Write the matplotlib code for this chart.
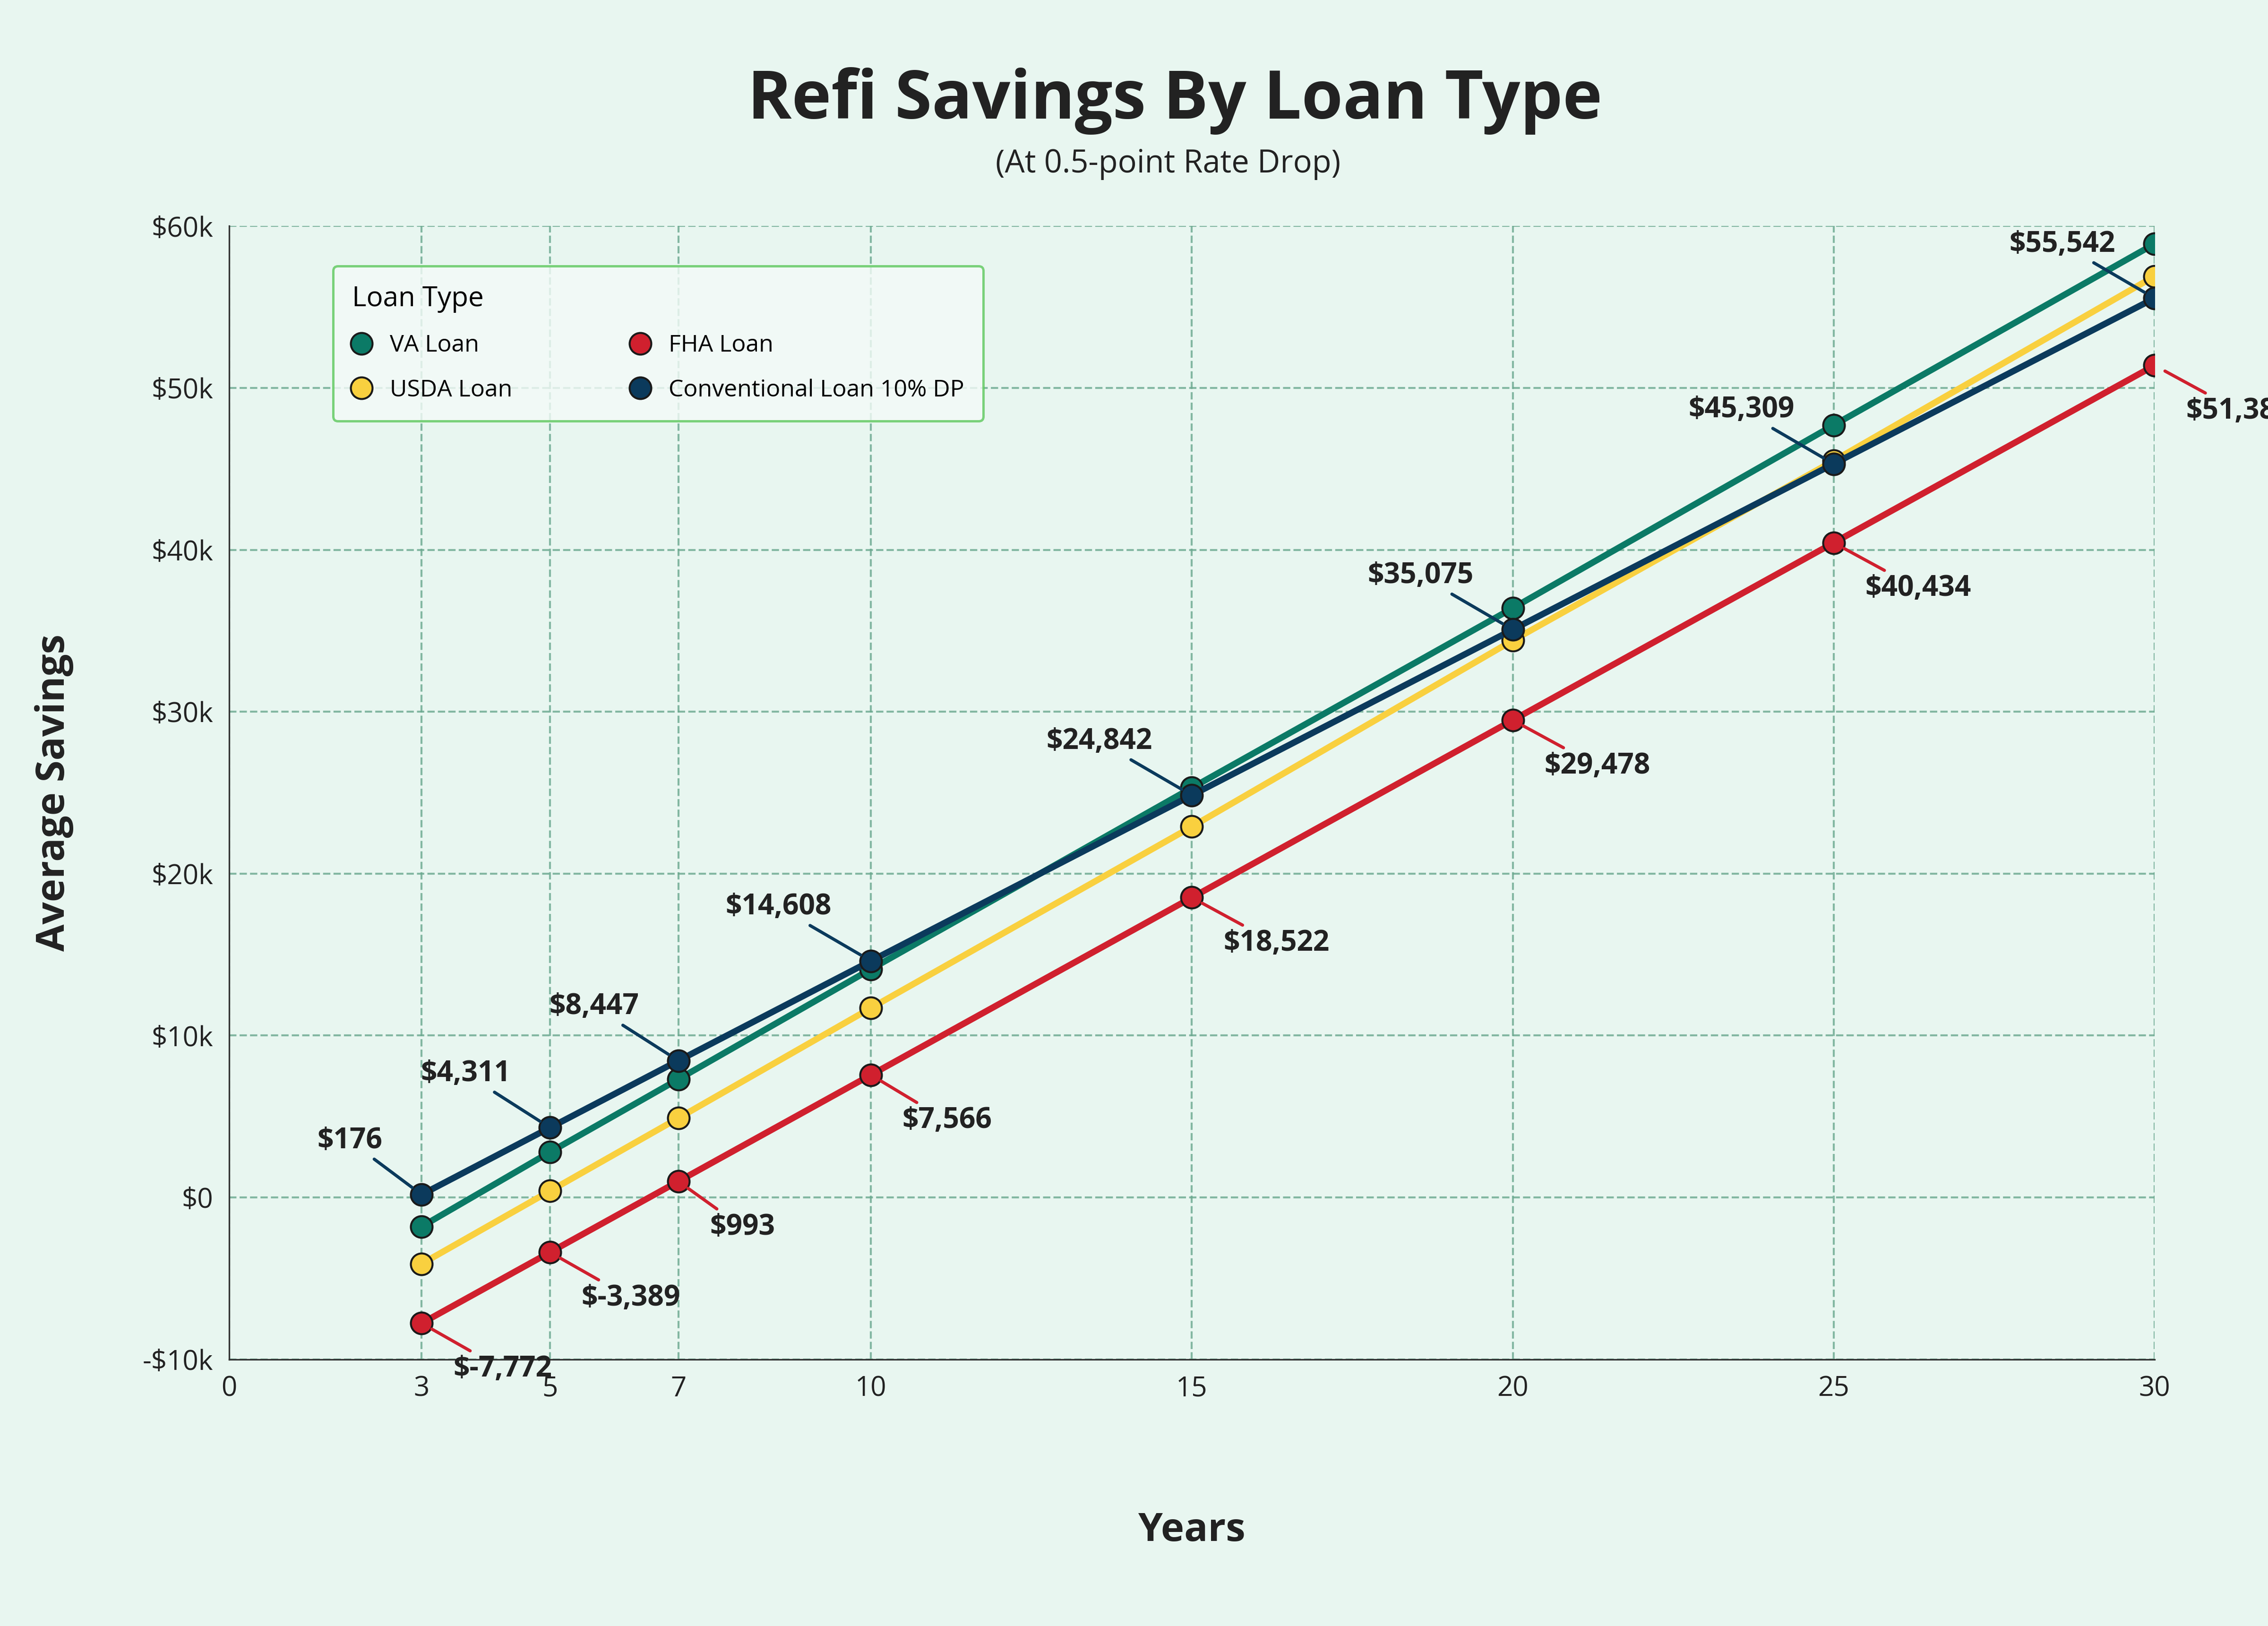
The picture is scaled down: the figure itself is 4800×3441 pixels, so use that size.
import matplotlib.pyplot as plt

plt.rcParams['font.family'] = 'Open Sans'

years = [3, 5, 7, 10, 15, 20, 25, 30]
va = [-1800, 2800, 7300, 14100, 25300, 36400, 47700, 58900]
usda = [-4100, 400, 4900, 11700, 22900, 34400, 45500, 56900]
fha = [-7772, -3389, 993, 7566, 18522, 29478, 40434, 51389]
conv = [176, 4311, 8447, 14608, 24842, 35075, 45309, 55542]

bg = '#e8f6f0'
fig = plt.figure(figsize=(16, 11.47), dpi=300, facecolor=bg)
ax = fig.add_axes([0.101, 0.164, 0.849, 0.697], facecolor=bg)

series = [('VA Loan', va, '#0b7a66'), ('USDA Loan', usda, '#f9d03f'),
          ('FHA Loan', fha, '#d0202e'), ('Conventional Loan 10% DP', conv, '#0b3a5c')]
for name, vals, col in series:
    ax.plot(years, vals, color=col, lw=3.2, marker='o', ms=11, mfc=col,
            mec='#1a1a1a', mew=1.0, label=name, zorder=3)

for x, v in zip(years, conv):
    ax.annotate(f'${v:,}', (x, v), xytext=(-20, 20), textcoords='offset points',
                ha='right', va='bottom', fontsize=14.5, fontweight='bold', color='#222222',
                arrowprops=dict(arrowstyle='-', color='#0b3a5c', lw=1.6, shrinkA=0, shrinkB=6))
for x, v in zip(years, fha):
    lab = f'$-{abs(v):,}' if v < 0 else f'${v:,}'
    ax.annotate(lab, (x, v), xytext=(16, -16), textcoords='offset points',
                ha='left', va='top', fontsize=14.5, fontweight='bold', color='#222222',
                arrowprops=dict(arrowstyle='-', color='#d0202e', lw=1.6, shrinkA=0, shrinkB=6))

ax.set_xlim(0, 30)
ax.set_ylim(-10000, 60000)
ax.set_xticks([0] + years)
yt = list(range(-10000, 60001, 10000))
ax.set_yticks(yt)
ax.set_yticklabels(['-$10k' if t < 0 else ('$0' if t == 0 else f'${t//1000}k') for t in yt])
ax.tick_params(labelsize=14, length=0, pad=8, colors='#222222')
ax.grid(True, ls='--', color='#6aa88f', lw=1, alpha=0.8)
for s in ['top', 'right']:
    ax.spines[s].set_visible(False)
for s in ['left', 'bottom']:
    ax.spines[s].set_color('#333333')

ax.set_xlabel('Years', fontsize=20, fontweight='bold', labelpad=55, color='#222222')
ax.set_ylabel('Average Savings', fontsize=20, fontweight='bold', labelpad=35, color='#222222')
fig.text(0.518, 0.938, 'Refi Savings By Loan Type', ha='center', va='center',
         fontsize=34, fontweight='bold', color='#222222')
fig.text(0.515, 0.899, '(At 0.5-point Rate Drop)', ha='center', va='center',
         fontsize=16, color='#222222')

leg = ax.legend(title='Loan Type', ncol=2, loc='upper left', bbox_to_anchor=(0.048, 0.975),
                fontsize=12, title_fontsize=14, frameon=True, facecolor='#f4fbf8',
                edgecolor='#5cc85c', handlelength=0.8, columnspacing=5, labelspacing=0.9,
                borderpad=0.8, alignment='left')
for h in leg.legend_handles:
    h.set_linestyle('none')
leg.get_frame().set_linewidth(1.2)

fig.savefig('out.png', dpi=300, facecolor=bg)
